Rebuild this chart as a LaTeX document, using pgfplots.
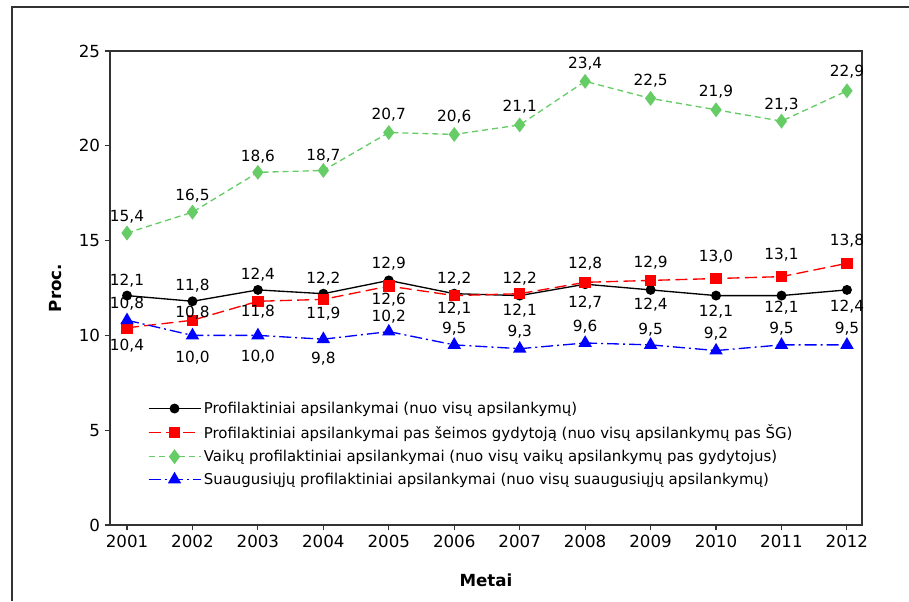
\documentclass[border=0pt]{standalone}
\usepackage{fontspec}
\setmainfont{DejaVu Sans}
\usepackage{pgfplots}
\usepackage{pgfplotstable}
\pgfplotsset{compat=1.18}

\definecolor{cgreen}{HTML}{66CC66}
\definecolor{cred}{HTML}{FF0000}
\definecolor{cblue}{HTML}{0000FF}

% x = year, y = value, dy = label offset (pt)
\pgfplotstableread{
x y dy
2001 12.1 11.5
2002 11.8 11.5
2003 12.4 11.5
2004 12.2 11.5
2005 12.9 12.5
2006 12.2 11.5
2007 12.1 -11.5
2008 12.7 -14
2009 12.4 -11
2010 12.1 -12
2011 12.1 -9
2012 12.4 -12.5
}\visos

\pgfplotstableread{
x y dy
2001 10.4 -13.5
2002 10.8 6
2003 11.8 -8
2004 11.9 -10.5
2005 12.6 -10.5
2006 12.1 -10
2007 12.2 11.5
2008 12.8 14
2009 12.9 13.5
2010 13.0 16
2011 13.1 16.5
2012 13.8 17
}\seimos

\pgfplotstableread{
x y dy
2001 15.4 12.5
2002 16.5 12
2003 18.6 12
2004 18.7 11
2005 20.7 13.5
2006 20.6 13
2007 21.1 13.5
2008 23.4 13.5
2009 22.5 13.5
2010 21.9 13.5
2011 21.3 12
2012 22.9 14
}\vaiku

\pgfplotstableread{
x y dy
2001 10.8 12.5
2002 10.0 -16.5
2003 10.0 -16
2004 9.8 -15
2005 10.2 11
2006 9.5 12
2007 9.3 12.5
2008 9.6 12
2009 9.5 11.5
2010 9.2 12.5
2011 9.5 12
2012 9.5 12
}\suaug

\begin{document}
\begin{tikzpicture}
\useasboundingbox (0,0) rectangle (681.75pt,450.75pt);
\draw[line width=0.8pt, black!80] (9pt,0) -- (9pt,445.5pt) -- (681.75pt,445.5pt);
\begin{axis}[
    at={(82.5pt,57pt)}, anchor=south west,
    scale only axis, width=564pt, height=355.5pt,
    xmin=2000.74, xmax=2012.23, ymin=0, ymax=25,
    xtick={2001,2002,...,2012}, ytick={0,5,...,25},
    /pgf/number format/assume math mode=true,
    xticklabel style={/pgf/number format/1000 sep={}, font=\fontsize{12.5}{14}\selectfont},
    yticklabel style={font=\fontsize{12.5}{14}\selectfont},
    tick align=outside, xtick pos=bottom, ytick pos=left,
    major tick length=4pt,
    tick style={line width=0.8pt, black!80},
    axis line style={line width=1.1pt, black!80},
    xlabel={\bfseries Metai}, ylabel={\bfseries Proc.},
    label style={font=\fontsize{12.5}{14}\selectfont\bfseries},
    xlabel style={at={(axis description cs:0.5,-0.116)}, anchor=center},
    ylabel style={at={(axis description cs:-0.073,0.5)}, anchor=center},
    nodes near coords={\pgfmathprintnumber[fixed,fixed zerofill,precision=1,use comma]{\pgfplotspointmeta}},
    point meta=y,
    visualization depends on={\thisrow{dy} \as \dy},
    every node near coord/.append style={anchor=center, yshift=\dy pt, font=\fontsize{11.5}{13}\selectfont, text=black},
    legend style={draw=none, fill=none, at={(axis description cs:0.05,0.266)}, anchor=north west,
                  font=\fontsize{11.2}{13}\selectfont, row sep=3.1pt, inner sep=0pt},
    legend cell align={left},
    /tikz/every even column/.append style={column sep=6pt},
    legend image code/.code={\draw[mark repeat=2,mark phase=2] plot coordinates {(0pt,0pt)(19.5pt,0pt)(39pt,0pt)};},
    clip=false,
]
\addplot[black, line width=1pt, mark=*, mark size=3.2pt, mark options={solid}] table[x=x,y=y] {\visos};
\addlegendentry{Profilaktiniai apsilankymai (nuo visų apsilankymų)}
\addplot[cred, line width=1pt, dash pattern=on 9pt off 4pt, mark=square*, mark size=3.8pt, mark options={solid}] table[x=x,y=y] {\seimos};
\addlegendentry{Profilaktiniai apsilankymai pas šeimos gydytoją (nuo visų apsilankymų pas ŠG)}
\addplot[cgreen, line width=1pt, dash pattern=on 4.5pt off 3pt, mark=diamond*, mark size=4.8pt, mark options={solid}] table[x=x,y=y] {\vaiku};
\addlegendentry{Vaikų profilaktiniai apsilankymai (nuo visų vaikų apsilankymų pas gydytojus)}
\addplot[cblue, line width=1pt, dash pattern=on 9pt off 3pt on 1.5pt off 3pt, mark=triangle*, mark size=4.8pt, mark options={solid}] table[x=x,y=y] {\suaug};
\addlegendentry{Suaugusiųjų profilaktiniai apsilankymai (nuo visų suaugusiųjų apsilankymų)}
\end{axis}
\end{tikzpicture}
\end{document}
